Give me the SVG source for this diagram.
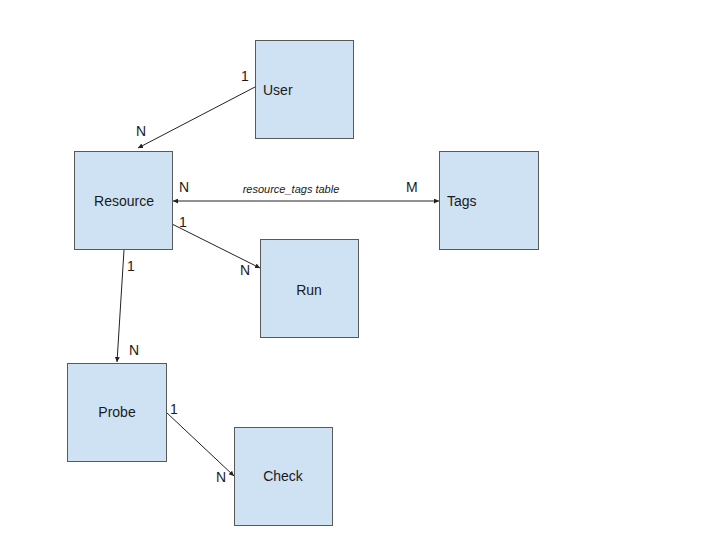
<svg xmlns="http://www.w3.org/2000/svg" width="720" height="540" viewBox="0 0 720 540">
  <style>
    .box { fill: #cfe2f3; stroke: #595959; stroke-width: 1; }
    .lbl { font-family: "Liberation Sans", Arial, sans-serif; font-size: 14px; fill: #1a1a1a; }
    .card { font-family: "Liberation Sans", Arial, sans-serif; font-size: 14px; fill: #1a1a1a; }
    .edge { stroke: #222; stroke-width: 1; fill: none; }
    .note { font-family: "Liberation Sans", Arial, sans-serif; font-size: 11px; font-style: italic; fill: #1a1a1a; }
  </style>
  <defs>
    <marker id="arr" viewBox="0 0 10 10" refX="10" refY="5" markerWidth="5" markerHeight="5" orient="auto-start-reverse">
      <path d="M0,0 L10,5 L0,10 z" fill="#222"/>
    </marker>
  </defs>
  <rect width="720" height="540" fill="#fff"/>

  <g id="connectors">
    <line class="edge" x1="255" y1="87" x2="138" y2="148" marker-end="url(#arr)"/>
    <line class="edge" x1="173" y1="201" x2="439" y2="201" marker-start="url(#arr)" marker-end="url(#arr)"/>
    <line class="edge" x1="172" y1="224" x2="260" y2="268" marker-end="url(#arr)"/>
    <line class="edge" x1="124" y1="250" x2="117" y2="362" marker-end="url(#arr)"/>
    <line class="edge" x1="166" y1="412" x2="234" y2="476" marker-end="url(#arr)"/>
    <text class="card" x="241" y="81">1</text>
    <text class="card" x="136" y="136">N</text>
    <text class="card" x="179" y="192">N</text>
    <text class="note" x="291" y="193" text-anchor="middle">resource_tags table</text>
    <text class="card" x="406" y="192">M</text>
    <text class="card" x="179" y="227">1</text>
    <text class="card" x="240" y="275">N</text>
    <text class="card" x="127" y="271">1</text>
    <text class="card" x="129" y="355">N</text>
    <text class="card" x="170" y="414">1</text>
    <text class="card" x="216" y="482">N</text>
  </g>

  <g id="user">
    <rect class="box" x="255.5" y="40.5" width="98" height="98"/>
    <text class="lbl" x="263" y="95">User</text>
  </g>
  <g id="resource">
    <rect class="box" x="74.5" y="151.5" width="98" height="98"/>
    <text class="lbl" x="124" y="206" text-anchor="middle">Resource</text>
  </g>
  <g id="tags">
    <rect class="box" x="439.5" y="151.5" width="99" height="98"/>
    <text class="lbl" x="447" y="206">Tags</text>
  </g>
  <g id="run">
    <rect class="box" x="260.5" y="239.5" width="98" height="98"/>
    <text class="lbl" x="309" y="295" text-anchor="middle">Run</text>
  </g>
  <g id="probe">
    <rect class="box" x="67.5" y="363.5" width="99" height="98"/>
    <text class="lbl" x="117" y="417" text-anchor="middle">Probe</text>
  </g>
  <g id="check">
    <rect class="box" x="234.5" y="427.5" width="98" height="98"/>
    <text class="lbl" x="283" y="481" text-anchor="middle">Check</text>
  </g>
</svg>
